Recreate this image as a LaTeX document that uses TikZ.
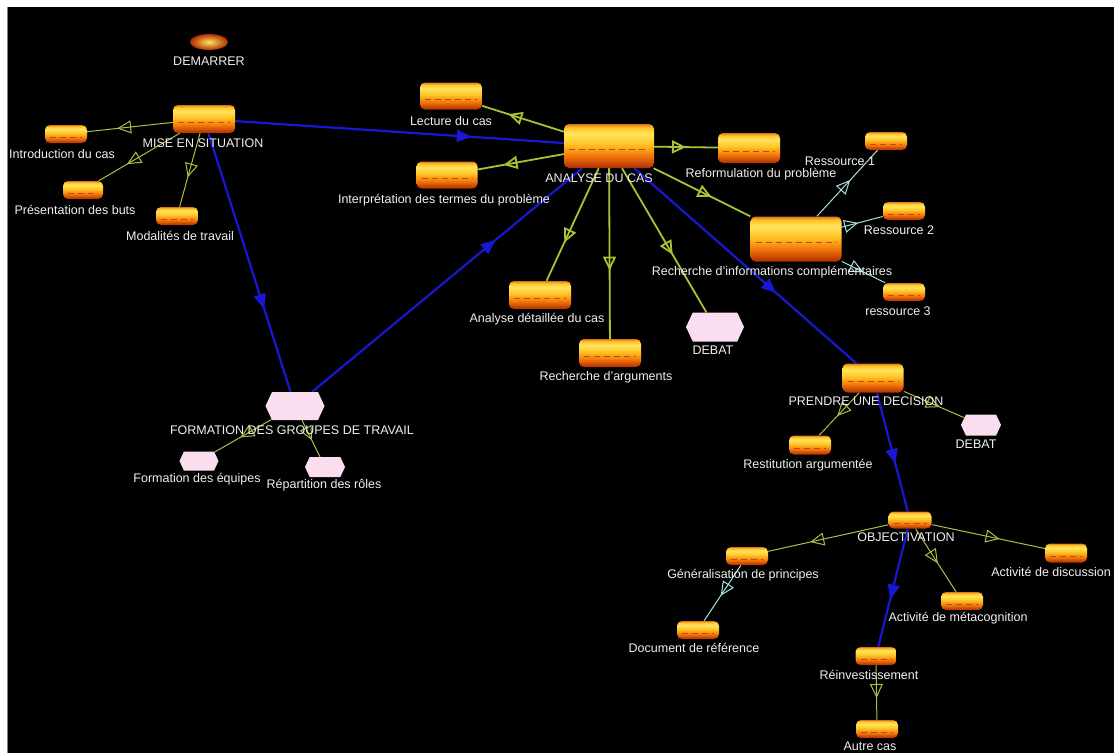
\documentclass[tikz,border=0pt]{standalone}
\usepackage{fontspec}
\setmainfont{Liberation Sans}
\usetikzlibrary{arrows.meta,decorations.markings,shapes.geometric,shapes.symbols}
\definecolor{blueE}{RGB}{24,24,210}
\definecolor{oliveE}{RGB}{175,190,70}
\definecolor{oliveT}{RGB}{170,195,50}
\definecolor{cyanE}{RGB}{170,225,225}
\definecolor{pinkN}{RGB}{250,222,240}
\definecolor{cylR}{RGB}{175,45,0}
\definecolor{cylO}{RGB}{240,115,10}
\definecolor{cylY}{RGB}{255,195,35}
\definecolor{cylL}{RGB}{255,228,95}
\definecolor{cylT}{RGB}{220,120,25}
\definecolor{cylD}{RGB}{200,70,10}
\definecolor{txt}{RGB}{240,240,240}
\pgfdeclareverticalshading{cylshade}{100bp}{color(0bp)=(cylR); color(25bp)=(cylR); color(38bp)=(cylO); color(52bp)=(cylY); color(64bp)=(cylL); color(71bp)=(cylY); color(75bp)=(cylT); color(100bp)=(cylT)}
\pgfdeclarelayer{bg}
\pgfdeclarelayer{edges}
\pgfsetlayers{bg,edges,main}
\tikzset{
  cyl/.style 2 args={rectangle, rounded corners=5pt, shading=cylshade, draw=none,
    minimum width=#1, minimum height=#2, inner sep=0pt,
    path picture={\draw[cylD, dash pattern=on 6pt off 4pt, line width=0.5pt]
      ([xshift=5pt,yshift=-3pt]path picture bounding box.west) -- ([xshift=-5pt,yshift=-3pt]path picture bounding box.east);}},
  hex/.style 2 args={signal, signal to=east and west, signal pointer angle=130,
    fill=pinkN, draw=none, minimum width=#1, minimum height=#2, inner sep=0pt},
  lbl/.style={text=txt, font=\fontsize{12.5}{14}\selectfont, inner sep=0pt},
  bl/.style={draw=blueE, line width=2.2pt, postaction={decorate, decoration={markings,
    mark=at position #1 with {\arrow{Triangle[length=15pt,width=12pt]}}}}},
  bl/.default=0.66,
  olT/.style={draw=oliveT, line width=1.8pt, postaction={decorate, decoration={markings,
    mark=at position #1 with {\arrow{Triangle[open,length=14pt,width=13pt]}}}}},
  olT/.default=0.66,
  ol/.style={draw=oliveE, line width=1pt, postaction={decorate, decoration={markings,
    mark=at position #1 with {\arrow{Triangle[open,length=14pt,width=13pt]}}}}},
  ol/.default=0.65,
  cy/.style={draw=cyanE, line width=1pt, postaction={decorate, decoration={markings,
    mark=at position #1 with {\arrow{Triangle[open,length=14pt,width=13pt]}}}}},
  cy/.default=0.65,
}
\begin{document}
\begin{tikzpicture}[x=1pt,y=-1pt]
\useasboundingbox (0,0) rectangle (1114,753);
\clip (0,0) rectangle (1114,753);
\begin{pgfonlayer}{bg}
  \fill[white] (0,0) rectangle (1114,753);
  \fill[black] (8,7) rectangle (1114,753);
  \draw[gray, line width=1pt] (7.5,7) -- (7.5,753);
\end{pgfonlayer}
% nodes
\node[ellipse, minimum width=38pt, minimum height=16pt, inner sep=0pt, shading=radial,
  inner color=cylL, outer color=cylR] (dem) at (209,42) {};
\node[cyl={62pt}{28pt}] (mise) at (204,119) {};
\node[cyl={42pt}{18pt}] (intro) at (66,134) {};
\node[cyl={40pt}{18pt}] (pres) at (83,190) {};
\node[cyl={42pt}{18pt}] (moda) at (177,216) {};
\node[cyl={62pt}{27pt}] (lect) at (451,96) {};
\node[cyl={61pt}{27pt}] (interp) at (447,175) {};
\node[cyl={90pt}{44pt}] (ana) at (609,146) {};
\node[cyl={62pt}{30pt}] (refo) at (749,148) {};
\node[cyl={42pt}{18pt}] (res1) at (886,141) {};
\node[cyl={42pt}{18pt}] (res2) at (904,211) {};
\node[cyl={91pt}{45pt}] (rech) at (796,239) {};
\node[cyl={42pt}{18pt}] (res3) at (904,292) {};
\node[cyl={62pt}{28pt}] (adet) at (540,295) {};
\node[cyl={62pt}{28pt}] (rarg) at (610,353) {};
\node[hex={58pt}{29pt}] (deb1) at (715,327) {};
\node[cyl={61pt}{29pt}] (prend) at (873,378) {};
\node[cyl={42pt}{19pt}] (resti) at (810,445) {};
\node[hex={40pt}{21pt}] (deb2) at (981,425) {};
\node[hex={59pt}{28pt}] (form) at (295,406) {};
\node[hex={39pt}{19pt}] (feq) at (199,461) {};
\node[hex={40pt}{20pt}] (rep) at (325,467) {};
\node[cyl={43pt}{17pt}] (obj) at (910,520) {};
\node[cyl={42pt}{18pt}] (gen) at (747,556) {};
\node[cyl={42pt}{19pt}] (disc) at (1066,553) {};
\node[cyl={42pt}{18pt}] (meta) at (962,601) {};
\node[cyl={42pt}{18pt}] (doc) at (698,630) {};
\node[cyl={41pt}{18pt}] (rein) at (876,656) {};
\node[cyl={42pt}{18pt}] (autre) at (877,729) {};
% labels
\node[lbl] (ldem) at (209,61) {DEMARRER};
\node[lbl] (lmise) at (203,143) {MISE EN SITUATION};
\node[lbl] (lintro) at (62,154) {Introduction du cas};
\node[lbl] (lpres) at (75,210) {Présentation des buts};
\node[lbl] (lmoda) at (180,236) {Modalités de travail};
\node[lbl] (llect) at (451,121) {Lecture du cas};
\node[lbl] (linterp) at (444,200) {Interprétation des termes du problème};
\node[lbl] (lana) at (599,178) {ANALYSE DU CAS};
\node[lbl] (lrefo) at (761,174) {Reformulation du problème};
\node[lbl] (lres1) at (840,161) {Ressource 1};
\node[lbl] (lres2) at (899,230) {Ressource 2};
\node[lbl] (lrech) at (772,272) {Recherche d'informations complémentaires};
\node[lbl] (lres3) at (898,311) {ressource 3};
\node[lbl] (ladet) at (537,319) {Analyse détaillée du cas};
\node[lbl] (lrarg) at (606,377) {Recherche d'arguments};
\node[lbl] (ldeb1) at (713,350) {DEBAT};
\node[lbl] (lprend) at (866,401) {PRENDRE UNE DECISION};
\node[lbl] (lresti) at (808,465) {Restitution argumentée};
\node[lbl] (ldeb2) at (976,444) {DEBAT};
\node[lbl] (lform) at (292,430) {FORMATION DES GROUPES DE TRAVAIL};
\node[lbl] (lfeq) at (197,479) {Formation des équipes};
\node[lbl] (lrep) at (324,485) {Répartition des rôles};
\node[lbl] (lobj) at (906,537) {OBJECTIVATION};
\node[lbl] (lgen) at (743,575) {Généralisation de principes};
\node[lbl, anchor=east] (ldisc) at (1111,572) {Activité de discussion};
\node[lbl] (lmeta) at (958,618) {Activité de métacognition};
\node[lbl] (ldoc) at (694,648) {Document de référence};
\node[lbl] (lrein) at (869,675) {Réinvestissement};
\node[lbl] (lautre) at (870,746) {Autre cas};
% edges
\begin{pgfonlayer}{edges}
  \draw[bl=0.72] (mise) -- (ana);
  \draw[bl=0.68] (mise) -- (form);
  \draw[bl=0.68] (form) -- (ana);
  \draw[bl=0.64] (ana) -- (prend);
  \draw[bl=0.6] (prend) -- (obj);
  \draw[bl=0.6] (obj) -- (rein);
  \draw[ol] (mise) -- (intro);
  \draw[ol] (mise) -- (pres);
  \draw[ol=0.6] (mise) -- (moda);
  \draw[olT=0.68] (ana) -- (lect);
  \draw[olT=0.7] (ana) -- (interp);
  \draw[olT=0.5] (ana) -- (refo);
  \draw[olT=0.6] (ana) -- (rech);
  \draw[olT] (ana) -- (adet);
  \draw[olT=0.6] (ana) -- (rarg);
  \draw[olT=0.6] (ana) -- (deb1);
  \draw[ol=0.55] (form) -- (feq);
  \draw[ol=0.55] (form) -- (rep);
  \draw[ol=0.55] (prend) -- (resti);
  \draw[ol=0.6] (prend) -- (deb2);
  \draw[ol] (obj) -- (gen);
  \draw[ol=0.6] (obj) -- (disc);
  \draw[ol=0.55] (obj) -- (meta);
  \draw[ol=0.6] (rein) -- (autre);
  \draw[cy=0.55] (rech) -- (res1);
  \draw[cy=0.4] (rech) -- (res2);
  \draw[cy=0.5] (rech) -- (res3);
  \draw[cy=0.55] (gen) -- (doc);
\end{pgfonlayer}
\end{tikzpicture}
\end{document}
